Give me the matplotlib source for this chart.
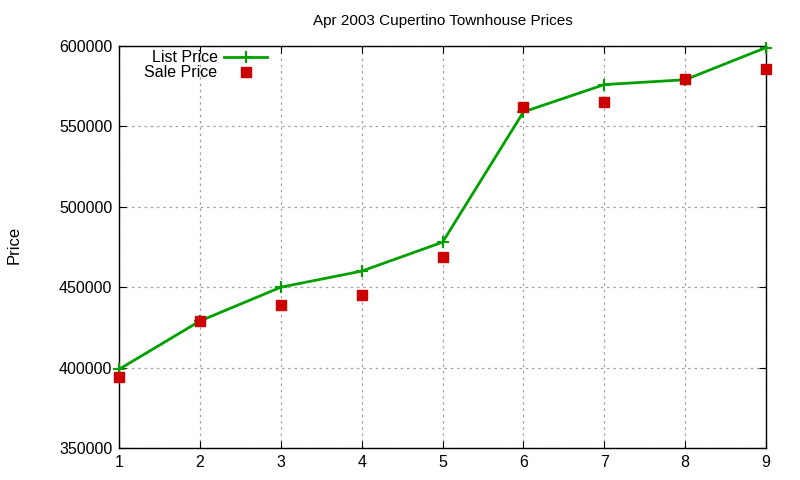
import matplotlib
matplotlib.use("Agg")
import matplotlib.pyplot as plt

# house index 1..9, prices
idx = [1, 2, 3, 4, 5, 6, 7, 8, 9]
list_price = [399000, 429000, 450000, 460000, 478000, 559000, 576000, 579000, 599000]
sale_price = [394000, 429000, 439000, 445000, 469000, 562000, 565000, 579500, 585500]

plt.rcParams["font.family"] = ["Liberation Sans", "DejaVu Sans"]

fig = plt.figure(figsize=(8, 4.8), dpi=100)
ax = fig.add_axes([0.149, 0.0667, 0.8085, 0.8375])

ax.plot(idx, list_price, color="#00a000", lw=2, marker="+", ms=9, mew=1.5,
        label="List Price", zorder=3, clip_on=False)
ax.plot(idx, sale_price, ls="none", marker="s", ms=6.5, color="#cc0000",
        label="Sale Price", zorder=4, clip_on=False)

ax.set_xlim(1, 9)
ax.set_ylim(350000, 600000)
ax.set_xticks(idx)
ax.set_yticks(range(350000, 600001, 50000))
ax.tick_params(direction="in", top=True, right=True, labelsize=11.5, length=5, pad=5)
ax.grid(True, ls=(0, (2, 3)), color="#a0a0a0", lw=0.9)
for s in ax.spines.values():
    s.set_linewidth(1)

ax.set_title("Apr 2003 Cupertino Townhouse Prices", fontsize=11, pad=15)
fig.text(0.008, 0.49, "Price", rotation=90, va="center", ha="left", fontsize=12)

leg = ax.legend(loc="upper right", bbox_to_anchor=(0.246, 1.0175), frameon=False,
                markerfirst=False, fontsize=11.5, handlelength=2.7,
                labelspacing=0.0, borderpad=0.2, handletextpad=0.4)
for t in leg.get_texts():
    t.set_ha("right")
leg._legend_box.align = "right"

fig.savefig("out.png", dpi=100)
